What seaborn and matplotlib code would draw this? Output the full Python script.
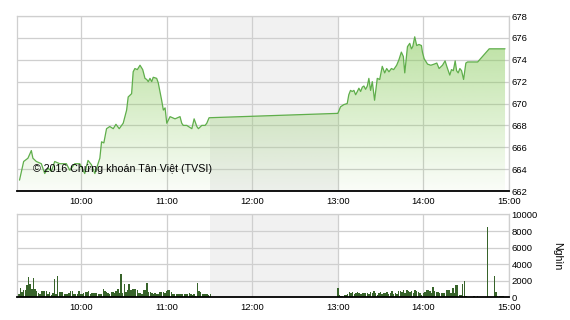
import numpy as np
import pandas as pd
import matplotlib
matplotlib.use("Agg")
import matplotlib.pyplot as plt
from matplotlib.colors import LinearSegmentedColormap
import seaborn as sns

# ---------------- data ----------------
# price: minutes after 09:00, VN-Index value
price_minutes = [16.5, 19.4, 22.4, 24.8, 25.9, 28.3, 31.8, 34.2, 36.5, 38.9, 41.2, 44.7,
                 49.4, 51.8, 55.3, 58.8, 62.3, 64.6, 67.0, 69.4, 72.9, 74.1, 75.7, 77.6,
                 79.9, 82.3, 84.2, 86.5, 89.3, 91.7, 92.8, 95.2, 96.3, 97.5, 99.2, 101.1,
                 103.0, 104.6, 105.8, 106.9, 108.1, 109.3, 110.4, 112.8, 113.9, 116.3,
                 117.5, 118.7, 119.9, 122.2, 125.7, 129.2, 130.4, 131.5, 133.9, 135.1,
                 137.5, 139.1, 141.0, 142.1, 144.5, 146.8, 148.0, 149.6,
                 240.0, 241.9, 244.2, 246.6, 247.7, 248.9, 250.1, 251.3, 252.5, 253.7,
                 254.8, 256.0, 257.2, 258.3, 259.5, 260.7, 261.8, 263.0, 264.2, 265.8,
                 267.7, 269.4, 271.2, 272.9, 274.3, 275.9, 277.6, 279.2, 281.3, 282.9,
                 284.6, 286.0, 287.0, 288.9, 290.5, 291.7, 292.6, 294.0, 295.4, 297.0,
                 298.7, 299.4, 300.6, 303.0, 305.3, 307.6, 309.5, 311.1, 313.5, 315.3,
                 316.5, 318.6, 319.8, 321.1, 322.4, 323.4, 324.5, 325.7, 326.9, 328.3,
                 329.9, 331.1, 338.2, 346.3, 357.4]
price_values = [663.0, 664.7, 665.0, 665.7, 665.0, 664.7, 664.5, 663.6, 664.1, 663.8, 664.7, 664.5,
                664.5, 663.9, 664.5, 664.5, 663.6, 664.8, 664.4, 663.6, 665.0, 666.5, 666.4, 667.7,
                667.9, 667.7, 668.1, 667.7, 668.2, 669.4, 670.6, 670.9, 672.9, 673.2, 673.1, 673.5,
                673.1, 672.3, 672.2, 672.0, 672.3, 672.0, 672.4, 672.3, 671.9, 670.3,
                669.4, 669.6, 668.2, 668.8, 668.6, 668.8, 668.2, 668.0, 668.0, 667.9,
                667.7, 668.6, 667.9, 667.7, 668.0, 668.0, 668.2, 668.7,
                669.1, 669.7, 669.9, 670.0, 670.8, 671.2, 671.1, 671.2, 670.8, 671.1,
                671.4, 671.1, 671.5, 671.6, 671.3, 671.6, 672.3, 671.2, 672.0, 670.3,
                672.3, 672.2, 673.4, 672.8, 673.2, 672.9, 673.2, 673.1, 673.5, 674.0,
                674.7, 674.3, 672.8, 675.2, 675.5, 675.0, 675.2, 676.1, 675.3, 675.4,
                675.3, 674.7, 674.1, 673.6, 673.5, 673.6, 673.7, 673.2, 673.5, 673.9,
                673.4, 672.6, 673.1, 673.0, 673.9, 673.0, 672.8, 673.2, 673.0, 672.2,
                673.7, 673.8, 673.8, 675.0, 675.0]

# volume (thousand shares): morning session bars 09:16-11:30
vol_am = [425, 1150, 700, 935, 935, 1450, 2470, 1570, 1060, 2300, 1020, 720, 510, 425, 765, 765,
          765, 765, 425, 680, 300, 510, 2200, 425, 2630, 680, 680, 595, 425, 425, 340, 510,
          765, 765, 425, 425, 425, 765, 425, 340, 510, 680, 680, 765, 425, 510, 510, 510,
          510, 340, 425, 340, 1020, 720, 680, 510, 425, 595, 680, 510, 765, 1020, 510, 2850,
          510, 1570, 595, 850, 1570, 850, 1000, 1000, 1000, 935, 510, 510, 425, 850, 935, 1700,
          680, 595, 510, 425, 510, 425, 425, 595, 595, 595, 510, 765, 850, 850, 595, 425,
          340, 340, 340, 425, 425, 340, 425, 340, 425, 510, 425, 255, 340, 170, 1700, 765,
          595, 340, 340, 340, 425, 255, 340]
# afternoon session bars 13:00-14:30
vol_pm = [1085, 280, 200, 160, 280, 280, 400, 680, 560, 680, 400, 560, 680, 560, 400, 480,
          560, 480, 560, 400, 680, 480, 800, 480, 280, 560, 680, 400, 560, 480, 680, 400,
          560, 800, 400, 480, 400, 800, 800, 680, 880, 560, 880, 800, 680, 800, 560, 880,
          800, 680, 480, 280, 480, 680, 880, 880, 800, 560, 1200, 800, 680, 680, 480, 560,
          560, 480, 880, 880, 880, 480, 1085, 560, 1490, 1490, 280, 280, 1600, 2000, 160]
# ATC / late bars
vol_late_minutes = [335.6, 338.0, 345.0, 350.0, 351.0, 352.0, 354.0, 355.0, 356.0]
vol_late = [160, 160, 8500, 2570, 700, 160, 200, 200, 200]

hour_ticks = [60, 120, 180, 240, 300, 360]
hour_labels = ["10:00", "11:00", "12:00", "13:00", "14:00", "15:00"]
price_ticks = [662, 664, 666, 668, 670, 672, 674, 676, 678]
vol_ticks = [0, 2000, 4000, 6000, 8000, 10000]
break_start, break_end = 150, 240   # 11:30 - 13:00
x_min, x_max = 15, 360

vol_minutes = (list(np.linspace(16, 150.5, len(vol_am))) +
               list(np.linspace(240, 330, len(vol_pm))) + vol_late_minutes)
vol_df = pd.DataFrame({"t": vol_minutes, "v": vol_am + vol_pm + vol_late})
price_df = pd.DataFrame({"t": price_minutes, "v": price_values})

# ---------------- style ----------------
sns.set_style("white")
plt.rcParams["font.family"] = ["Liberation Sans", "DejaVu Sans"]

GRID = "#cfcfcf"
LINE = "#5fae4b"
BAR = "#37632a"
SHADE = "#f1f1f1"

fig = plt.figure(figsize=(5.7, 3.2), dpi=100)
ax1 = fig.add_axes([0.0305, 0.403, 0.862, 0.547])
ax2 = fig.add_axes([0.0305, 0.0709, 0.862, 0.259])


def style_axes(ax, yticks, ylim):
    ax.set_xlim(x_min, x_max)
    ax.set_ylim(*ylim)
    ax.set_xticks(hour_ticks)
    ax.set_xticklabels(hour_labels)
    ax.set_yticks(yticks)
    ax.set_yticklabels([str(t) for t in yticks])
    ax.yaxis.tick_right()
    ax.tick_params(axis="y", length=0, pad=2, labelsize=6.8, colors="#000000")
    ax.tick_params(axis="x", length=0, pad=4, labelsize=6.8, colors="#000000")
    ax.grid(True, color=GRID, linewidth=0.9)
    ax.set_axisbelow(True)
    ax.axvspan(break_start, break_end, color=SHADE, zorder=0.2, linewidth=0)
    for side in ["top", "left", "right"]:
        ax.spines[side].set_color(GRID)
        ax.spines[side].set_linewidth(0.9)
    ax.spines["bottom"].set_color("#000000")
    ax.spines["bottom"].set_linewidth(1.3)
    ax.set_xlabel("")
    ax.set_ylabel("")


# ---------------- price chart ----------------
sns.lineplot(data=price_df, x="t", y="v", ax=ax1, color=LINE, linewidth=0.9,
             estimator=None, sort=True, zorder=3)
poly = ax1.fill_between(price_minutes, price_values, 662, color="none", linewidth=0)
cmap = LinearSegmentedColormap.from_list(
    "g", [(0.55, 0.80, 0.38, 0.04), (0.55, 0.80, 0.38, 0.32), (0.55, 0.80, 0.38, 0.6)])
grad = np.linspace(0, 1, 256).reshape(-1, 1)
img = ax1.imshow(grad, aspect="auto", cmap=cmap, origin="lower",
                 extent=[x_min, x_max, 662, 676.5], zorder=0.8)
img.set_clip_path(poly.get_paths()[0], transform=ax1.transData)
style_axes(ax1, price_ticks, (662, 678))

ax1.text(33 / 570, 1 - 169 / 320, "\u00a9 2016 Ch\u1ee9ng kho\u00e1n T\u00e2n Vi\u1ec7t (TVSI)",
         transform=fig.transFigure, fontsize=7.7, va="center", ha="left", color="#000000",
         zorder=5)

# ---------------- volume chart ----------------
sns.barplot(data=vol_df, x="t", y="v", ax=ax2, native_scale=True, color=BAR,
            width=1.0, errorbar=None, linewidth=0, saturation=1, zorder=2)
style_axes(ax2, vol_ticks, (0, 10000))

fig.text(557 / 570, 1 - 256 / 320, "Ngh\u00ecn", rotation=270, fontsize=7.6,
         va="center", ha="center", color="#000000")

fig.savefig("out.png", dpi=100)
